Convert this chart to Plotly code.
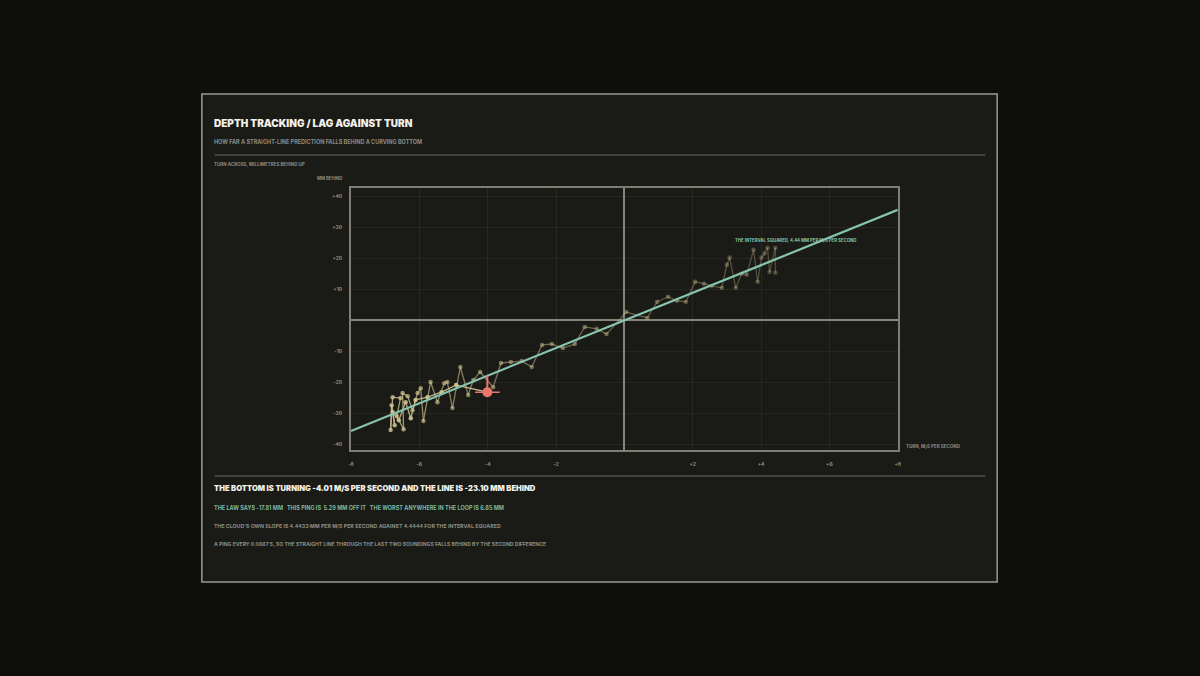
import plotly.graph_objects as go

# ---- data ----
turn = [4.42, 4.42, 4.25, 4.19, 4.10, 4.01, 3.90, 3.78, 3.58, 3.43, 3.26, 3.08, 3.00, 2.85,
        2.56, 2.33, 2.07, 1.80, 1.54, 1.28, 0.96, 0.67, 0.06, -0.52, -0.81, -1.16, -1.45,
        -1.80, -2.12, -2.41, -2.71, -3.00, -3.32, -3.61, -3.84, -4.22, -4.42, -4.57, -4.80,
        -5.03, -5.18, -5.27, -5.47, -5.67, -5.88, -5.96, -6.05, -6.20, -6.34, -6.49, -6.46,
        -6.66, -6.55, -6.78, -6.84, -6.81, -6.72, -6.78, -6.60, -6.40, -6.25, -6.11, -5.76,
        -5.35, -4.92, -4.01]
lag = [15.3, 23.4, 15.6, 23.4, 21.5, 20.2, 12.4, 22.7, 14.7, 15.0, 10.5, 20.2, 17.9, 10.5,
       11.1, 11.8, 12.4, 6.0, 6.3, 7.6, 6.0, 0.8, 2.7, -4.4, -2.7, -2.1, -7.6,
       -8.9, -7.6, -7.9, -15.0, -13.1, -13.4, -13.7, -21.5, -16.6, -19.2, -24.0, -15.0,
       -28.2, -19.8, -20.2, -26.3, -19.8, -32.4, -21.8, -23.4, -28.9, -24.4, -23.4, -35.0,
       -30.8, -25.0, -24.7, -35.3, -27.3, -33.7, -29.5, -32.1, -26.3, -31.5, -25.6, -24.7,
       -23.1, -20.8, -23.10]

slope = 4.4444
current_turn = -4.01
current_lag = -23.10
law_lag = -17.81

x_ticks = [-8, -6, -4, -2, 2, 4, 6, 8]
x_tick_text = ["-8", "-6", "-4", "-2", "+2", "+4", "+6", "+8"]
y_ticks = [-40, -30, -20, -10, 10, 20, 30, 40]
y_tick_text = ["-40", "-30", "-20", "-10", "+10", "+20", "+30", "+40"]

fit_x = [-8, 8]
fit_y = [slope * v for v in fit_x]

# ---- style ----
BG = "#0e0f0b"
PANEL = "#1a1a16"
PLOT = "#1b1b18"
GRID = "#272722"
AXIS = "#7d7d73"
TAN = (208, 194, 144)
TEAL = "#86c4ae"
RED = "#e9766b"
TXT = "#8d8d84"
FONT = "Inter"

fig = go.Figure()

n = len(turn)
def alpha(i):
    return 0.3 + 0.68 * (i / (n - 1)) ** 1.6

for i in range(n - 1):
    c = f"rgba({TAN[0]},{TAN[1]},{TAN[2]},{alpha(i + 1):.2f})"
    fig.add_trace(go.Scatter(x=turn[i:i + 2], y=lag[i:i + 2], mode="lines",
                             line=dict(color=c, width=1.3), hoverinfo="skip", showlegend=False))
marker_colors = [f"rgba({TAN[0]},{TAN[1]},{TAN[2]},{alpha(i):.2f})" for i in range(n)]
fig.add_trace(go.Scatter(x=turn[:-1], y=lag[:-1], mode="markers",
                         marker=dict(color=marker_colors[:-1], size=4.5),
                         hoverinfo="skip", showlegend=False))

fig.add_trace(go.Scatter(x=fit_x, y=fit_y, mode="lines",
                         line=dict(color=TEAL, width=2.2),
                         hoverinfo="skip", showlegend=False))

fig.add_trace(go.Scatter(x=[current_turn, current_turn], y=[current_lag, law_lag], mode="lines",
                         line=dict(color=RED, width=2), hoverinfo="skip", showlegend=False))
fig.add_trace(go.Scatter(x=[current_turn - 0.36, current_turn + 0.36], y=[current_lag, current_lag],
                         mode="lines", line=dict(color=RED, width=1.5),
                         hoverinfo="skip", showlegend=False))
fig.add_trace(go.Scatter(x=[current_turn], y=[current_lag], mode="markers",
                         marker=dict(color=RED, size=10), hoverinfo="skip", showlegend=False))

W, H = 1200, 676
def px(x):
    return x / W
def py(y):
    return 1 - y / H

shapes = [
    dict(type="rect", xref="paper", yref="paper", x0=px(200), x1=px(1000), y0=py(582), y1=py(94),
         fillcolor=PANEL, line=dict(color="#9a9a90", width=1.5), layer="below"),
    dict(type="line", xref="paper", yref="paper", x0=px(213), x1=px(988), y0=py(155), y1=py(155),
         line=dict(color="#6f6f66", width=1.2)),
    dict(type="line", xref="paper", yref="paper", x0=px(213), x1=px(988), y0=py(476), y1=py(476),
         line=dict(color="#6f6f66", width=1.2)),
]

def txt(x, y, s, size, color, weight="bold", xanchor="left"):
    return dict(x=px(x), y=py(y), xref="paper", yref="paper", text=s, showarrow=False,
                xanchor=xanchor, yanchor="middle",
                font=dict(family=FONT, size=size, color=color, weight=weight))

annotations = [
    txt(210, 123, "DEPTH TRACKING / LAG AGAINST TURN", 10, "#f2f0e8", weight=900),
    txt(210, 142, "HOW FAR A STRAIGHT-LINE PREDICTION FALLS BEHIND A CURVING BOTTOM", 5.5, TXT),
    txt(210, 165, "TURN ACROSS, MILLIMETRES BEHIND UP", 4.5, TXT),
    txt(314, 178, "MM BEHIND", 4.3, TXT),
    txt(906, 446, "TURN, M/S PER SECOND", 4.5, TXT),
    txt(210, 488, "THE BOTTOM IS TURNING -4.01 M/S PER SECOND AND THE LINE IS -23.10 MM BEHIND",
        7.6, "#f2f0e8", weight=900),
    txt(210, 508, "THE LAW SAYS -17.81 MM&nbsp;&nbsp;&nbsp;THIS PING IS&nbsp;&nbsp;5.29 MM OFF IT&nbsp;&nbsp;&nbsp;THE WORST ANYWHERE IN THE LOOP IS 6.85 MM",
        5.5, "#7fb89c"),
    txt(210, 526, "THE CLOUD'S OWN SLOPE IS 4.4433 MM PER M/S PER SECOND AGAINST 4.4444 FOR THE INTERVAL SQUARED",
        5.25, TXT),
    txt(210, 544, "A PING EVERY 0.0667 S, SO THE STRAIGHT LINE THROUGH THE LAST TWO SOUNDINGS FALLS BEHIND BY THE SECOND DIFFERENCE",
        5.1, TXT),
    dict(x=5.0, y=25.6, xref="x", yref="y", text="THE INTERVAL SQUARED, 4.44 MM PER M/S PER SECOND",
         showarrow=False, xanchor="center", yanchor="middle",
         font=dict(family=FONT, size=4.3, color=TEAL, weight="bold")),
]

fig.update_layout(
    width=W, height=H,
    margin=dict(l=0, r=0, t=0, b=0),
    paper_bgcolor=BG, plot_bgcolor=PLOT,
    shapes=shapes, annotations=annotations,
    showlegend=False,
    xaxis=dict(domain=[px(350), px(900)], range=[-8, 8], tickvals=x_ticks, ticktext=x_tick_text,
               showgrid=True, gridcolor=GRID, gridwidth=1,
               zeroline=True, zerolinecolor="#858579", zerolinewidth=1.5,
               showline=True, mirror=True, linecolor=AXIS, linewidth=1.5,
               ticks="", ticklabelstandoff=8,
               tickfont=dict(family=FONT, size=5, color=TXT, weight="bold"), fixedrange=True),
    yaxis=dict(domain=[py(450), py(188)], range=[-41.7, 42.6], tickvals=y_ticks, ticktext=y_tick_text,
               showgrid=True, gridcolor=GRID, gridwidth=1,
               zeroline=True, zerolinecolor="#858579", zerolinewidth=1.5,
               showline=True, mirror=True, linecolor=AXIS, linewidth=1.5,
               ticks="", ticklabelstandoff=6,
               tickfont=dict(family=FONT, size=5, color=TXT, weight="bold"), fixedrange=True),
)

fig.write_html("out.html", config={"displayModeBar": False},
               post_script=("document.documentElement.style.overflow='hidden';"
                            "document.body.style.overflow='hidden';"
                            "document.body.style.margin='0';document.body.style.padding='0';"
                            "document.body.style.background='" + BG + "';"))
